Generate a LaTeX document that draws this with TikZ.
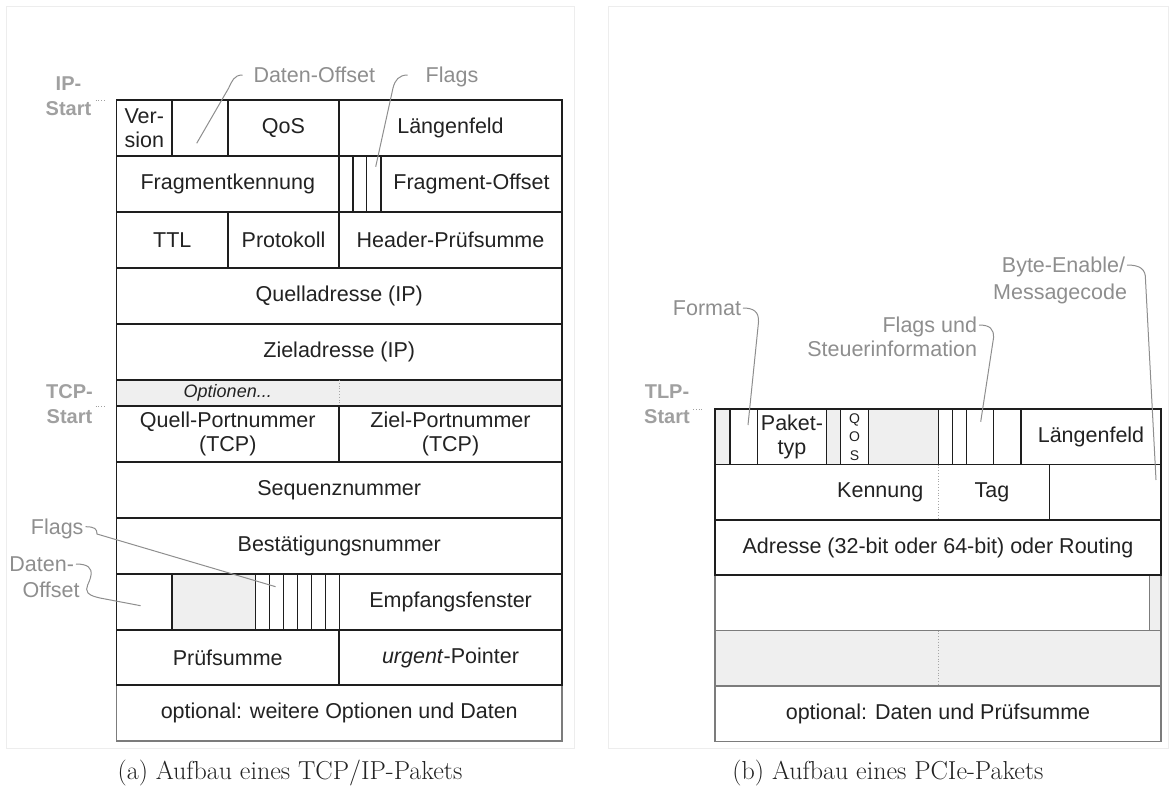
\documentclass[tikz,border=0pt]{standalone}
\usepackage{fontspec}
\newfontfamily\arialfont{Liberation Sans}
\usetikzlibrary{positioning,calc}

\definecolor{lineDark}{HTML}{1E1E1E}
\definecolor{textDark}{HTML}{222222}
\definecolor{noteGray}{HTML}{8E8E8E}
\definecolor{startGray}{HTML}{A0A0A0}
\definecolor{fillGray}{HTML}{EFEFEF}
\definecolor{borderGray}{HTML}{7C7C7C}
\definecolor{frameGray}{HTML}{EDEDED}

\begin{document}
\begin{tikzpicture}[
    x=1pt, y=-1pt,
    field/.style={rectangle, draw=lineDark, line width=1.5pt, inner sep=0pt, outer sep=0pt,
        anchor=north west, align=center, text=textDark,
        font=\arialfont\fontsize{21.5}{24}\selectfont},
    grayfield/.style={field, fill=fillGray},
    bit/.style={field, line width=1.2pt},
    lowfield/.style={field, draw=borderGray},
    fieldtext/.style={inner sep=0pt, text=textDark, font=\arialfont\fontsize{21.5}{24}\selectfont},
    note/.style={inner sep=0pt, outer xsep=2pt, text height=15.5pt, text depth=0pt,
        text=noteGray, font=\arialfont\fontsize{21.5}{25}\selectfont},
    startlbl/.style={inner sep=0pt, align=center, text=startGray,
        font=\arialfont\bfseries\fontsize{20}{25}\selectfont},
    callout/.style={draw=noteGray, line width=1pt},
    starttick/.style={draw=startGray, line width=0.8pt, dotted},
    divider/.style={draw=black!35, line width=0.8pt, dotted},
    subframe/.style={draw=frameGray, line width=1pt},
    subcap/.style={inner sep=0pt, text=textDark, font=\fontsize{26}{30}\selectfont}
]
\useasboundingbox (0,0) rectangle (1174,809);
\draw[subframe] (6,6) rectangle (574,748);
\draw[subframe] (608,6) rectangle (1168,748);

% TCP/IP packet
\node[lowfield, minimum width=445.5pt, minimum height=56pt] (moreData) at (116.5,685) {optional: weitere Optionen und Daten};

\node[field, minimum width=55.5pt, minimum height=56pt] (ver) at (116.5,100) {Ver-\\sion};
\node[field, minimum width=56pt, minimum height=56pt] (ipDoff) at (172,100) {};
\node[field, minimum width=111pt, minimum height=56pt] (qos) at (228,100) {QoS};
\node[field, minimum width=223pt, minimum height=56pt] (ipLen) at (339,100) {Längenfeld};

\node[field, minimum width=222.5pt, minimum height=56pt] (fragId) at (116.5,156) {Fragmentkennung};
\node[bit, minimum width=14pt, minimum height=56pt] (ipFlagA) at (339,156) {};
\node[bit, minimum width=13.5pt, minimum height=56pt] (ipFlagB) at (353,156) {};
\node[bit, minimum width=14.5pt, minimum height=56pt] (ipFlagC) at (366.5,156) {};
\node[field, minimum width=181pt, minimum height=56pt] (fragOff) at (381,156) {Fragment-Offset};

\node[field, minimum width=111.5pt, minimum height=56pt] (ttl) at (116.5,212) {TTL};
\node[field, minimum width=111pt, minimum height=56pt] (proto) at (228,212) {Protokoll};
\node[field, minimum width=223pt, minimum height=56pt] (hdrSum) at (339,212) {Header-Prüfsumme};

\node[field, minimum width=445.5pt, minimum height=56pt] (srcIp) at (116.5,268) {Quelladresse (IP)};
\node[field, minimum width=445.5pt, minimum height=56pt] (dstIp) at (116.5,324) {Zieladresse (IP)};

\node[grayfield, minimum width=445.5pt, minimum height=26pt] (opts) at (116.5,380) {};
\draw[divider] (opts.north) -- (opts.south);
\node[fieldtext, font=\arialfont\itshape\fontsize{18}{20}\selectfont] (optsTxt) at (227.75,393) {Optionen...};

\node[field, minimum width=222.5pt, minimum height=56pt] (srcPort) at (116.5,406) {Quell-Portnummer\\(TCP)};
\node[field, minimum width=223pt, minimum height=56pt] (dstPort) at (339,406) {Ziel-Portnummer\\(TCP)};
\node[field, minimum width=445.5pt, minimum height=56pt] (seqNr) at (116.5,462) {Sequenznummer};
\node[field, minimum width=445.5pt, minimum height=56pt] (ackNr) at (116.5,518) {Bestätigungsnummer};

\node[field, minimum width=55.5pt, minimum height=56pt] (tcpDoff) at (116.5,574) {};
\node[grayfield, minimum width=83.3pt, minimum height=56pt] (resvd) at (172,574) {};
\foreach \i in {0,...,5}
    \node[bit, minimum width=14pt, minimum height=56pt] (tcpFlag\i) at (255.3+14*\i,574) {};
\node[field, minimum width=222.7pt, minimum height=56pt] (win) at (339.3,574) {Empfangsfenster};

\node[field, minimum width=222.5pt, minimum height=55pt] (cSum) at (116.5,630) {Prüfsumme};
\node[field, minimum width=223pt, minimum height=55pt] (urgPtr) at (339,630) {\textit{urgent}-Pointer};

\node[startlbl] (ipStart) at (68.5,96) {IP-\\Start};
\draw[starttick] ($(ver.north west)+(-21,0)$) -- ++(9,0);
\node[startlbl] (tcpStart) at (69.5,404) {TCP-\\Start};
\draw[starttick] ($(srcPort.north west)+(-21,0)$) -- ++(9,0);

% callouts, TCP/IP
\node[note, anchor=west] (doNote) at (251.5,75) {Daten-Offset};
\coordinate (doTip) at (196.7,143.3);
\draw[callout] (doNote.west) ++(-9,0) .. controls (234,75) and (232,81) .. (228.7,88) -- (doTip);

\node[note, anchor=west] (ipFlagNote) at (423.7,75) {Flags};
\coordinate (ipFlagTip) at (375.7,166.7);
\draw[callout] (ipFlagNote.west) ++(-16,0) .. controls (399,75) and (395,80) .. (393,88) -- (ipFlagTip);

\node[note, anchor=east] (tcpFlagNote) at (85.5,526.7) {Flags};
\coordinate (tcpFlagTip) at (275.6,586.7);
\draw[callout] (tcpFlagNote.east) .. controls (95,526.7) and (97,529) .. (97,534) -- (tcpFlagTip);

\node[note, anchor=east] (tcpDoffNoteA) at (76,564) {Daten-};
\node[note, anchor=east] (tcpDoffNoteB) at (81.5,590) {Offset};
\coordinate (tcpDoffTip) at (140.6,605.7);
\draw[callout] (tcpDoffNoteA.east) .. controls (88,564) and (92,568) .. (91,575)
    .. controls (90,583) and (84,588) .. (88,593)
    .. controls (91,596) and (96,597) .. (100,598) -- (tcpDoffTip);

% PCIe packet
\node[lowfield, minimum width=446pt, minimum height=55.5pt] (tlpData) at (715,686) {optional: Daten und Prüfsumme};
\node[lowfield, fill=fillGray, minimum width=446pt, minimum height=55.5pt] (tlpExt) at (715,630.5) {};
\draw[divider] (tlpExt.north) -- (tlpExt.south);
\node[lowfield, minimum width=446pt, minimum height=55.5pt] (addrLow) at (715,575) {};
\node[lowfield, fill=fillGray, minimum width=11.7pt, minimum height=55.5pt] (addrPad) at (1149.3,575) {};

\node[grayfield, minimum width=15pt, minimum height=55.5pt] (tlpResA) at (715,409) {};
\node[field, minimum width=27.3pt, minimum height=55.5pt] (fmt) at (730,409) {};
\node[field, minimum width=69.4pt, minimum height=55.5pt] (pktType) at (757.3,409) {Paket-\\typ};
\node[grayfield, minimum width=14pt, minimum height=55.5pt] (tlpResB) at (826.7,409) {};
\node[field, minimum width=27.6pt, minimum height=55.5pt,
      font=\arialfont\fontsize{14}{18.5}\selectfont] (tc) at (840.7,409) {Q\\O\\S};
\node[grayfield, minimum width=70pt, minimum height=55.5pt] (tlpResC) at (868.3,409) {};
\node[bit, minimum width=14.4pt, minimum height=55.5pt] (attrA) at (938.3,409) {};
\node[bit, minimum width=14pt, minimum height=55.5pt] (attrB) at (952.7,409) {};
\node[bit, minimum width=26.6pt, minimum height=55.5pt] (attrC) at (966.7,409) {};
\node[bit, minimum width=27.7pt, minimum height=55.5pt] (attrD) at (993.3,409) {};
\node[field, minimum width=140pt, minimum height=55.5pt] (tlpLen) at (1021,409) {Längenfeld};

\node[field, minimum width=334.3pt, minimum height=55.5pt] (reqId) at (715,464.5) {};
\node[field, minimum width=111.7pt, minimum height=55.5pt] (byteEn) at (1049.3,464.5) {};
\coordinate (tagSep) at (938.3,464.5);
\draw[divider] (tagSep) -- ++(0,55.5);
\node[fieldtext, anchor=east] (kenn) at (923.5,492.3) {Kennung};
\node[fieldtext] (tag) at (992,492.3) {Tag};

\node[field, minimum width=446pt, minimum height=55pt] (addr) at (715,520) {Adresse (32-bit oder 64-bit) oder Routing};

\node[startlbl] (tlpStart) at (667,404) {TLP-\\Start};
\draw[starttick] ($(tlpResA.north west)+(-22,0)$) -- ++(10,0);

% callouts, PCIe
\node[note, anchor=east] (fmtNote) at (743,308) {Format};
\coordinate (fmtTip) at (748,425);
\draw[callout] (fmtNote.east) .. controls (754,308) and (759,312) .. (758.5,322) -- (fmtTip);

\node[note, anchor=east] (ctrlNoteA) at (979,325) {Flags und};
\node[note, anchor=east] (ctrlNoteB) at (979,348.3) {Steuerinformation};
\coordinate (ctrlTip) at (980.7,421.7);
\draw[callout] (ctrlNoteA.east) .. controls (990,325) and (994,329) .. (993.5,338) -- (ctrlTip);

\node[note, anchor=east] (beNoteA) at (1127,265) {Byte-Enable/};
\node[note, anchor=east] (beNoteB) at (1129,291.7) {Messagecode};
\coordinate (beTip) at (1156,480);
\draw[callout] (beNoteA.east) .. controls (1140,265) and (1146,269) .. (1145.5,280) -- (beTip);

% captions
\node[subcap] (capA) at (290,773) {(a) Aufbau eines TCP/IP-Pakets};
\node[subcap] (capB) at (888,773) {(b) Aufbau eines PCIe-Pakets};
\end{tikzpicture}
\end{document}
